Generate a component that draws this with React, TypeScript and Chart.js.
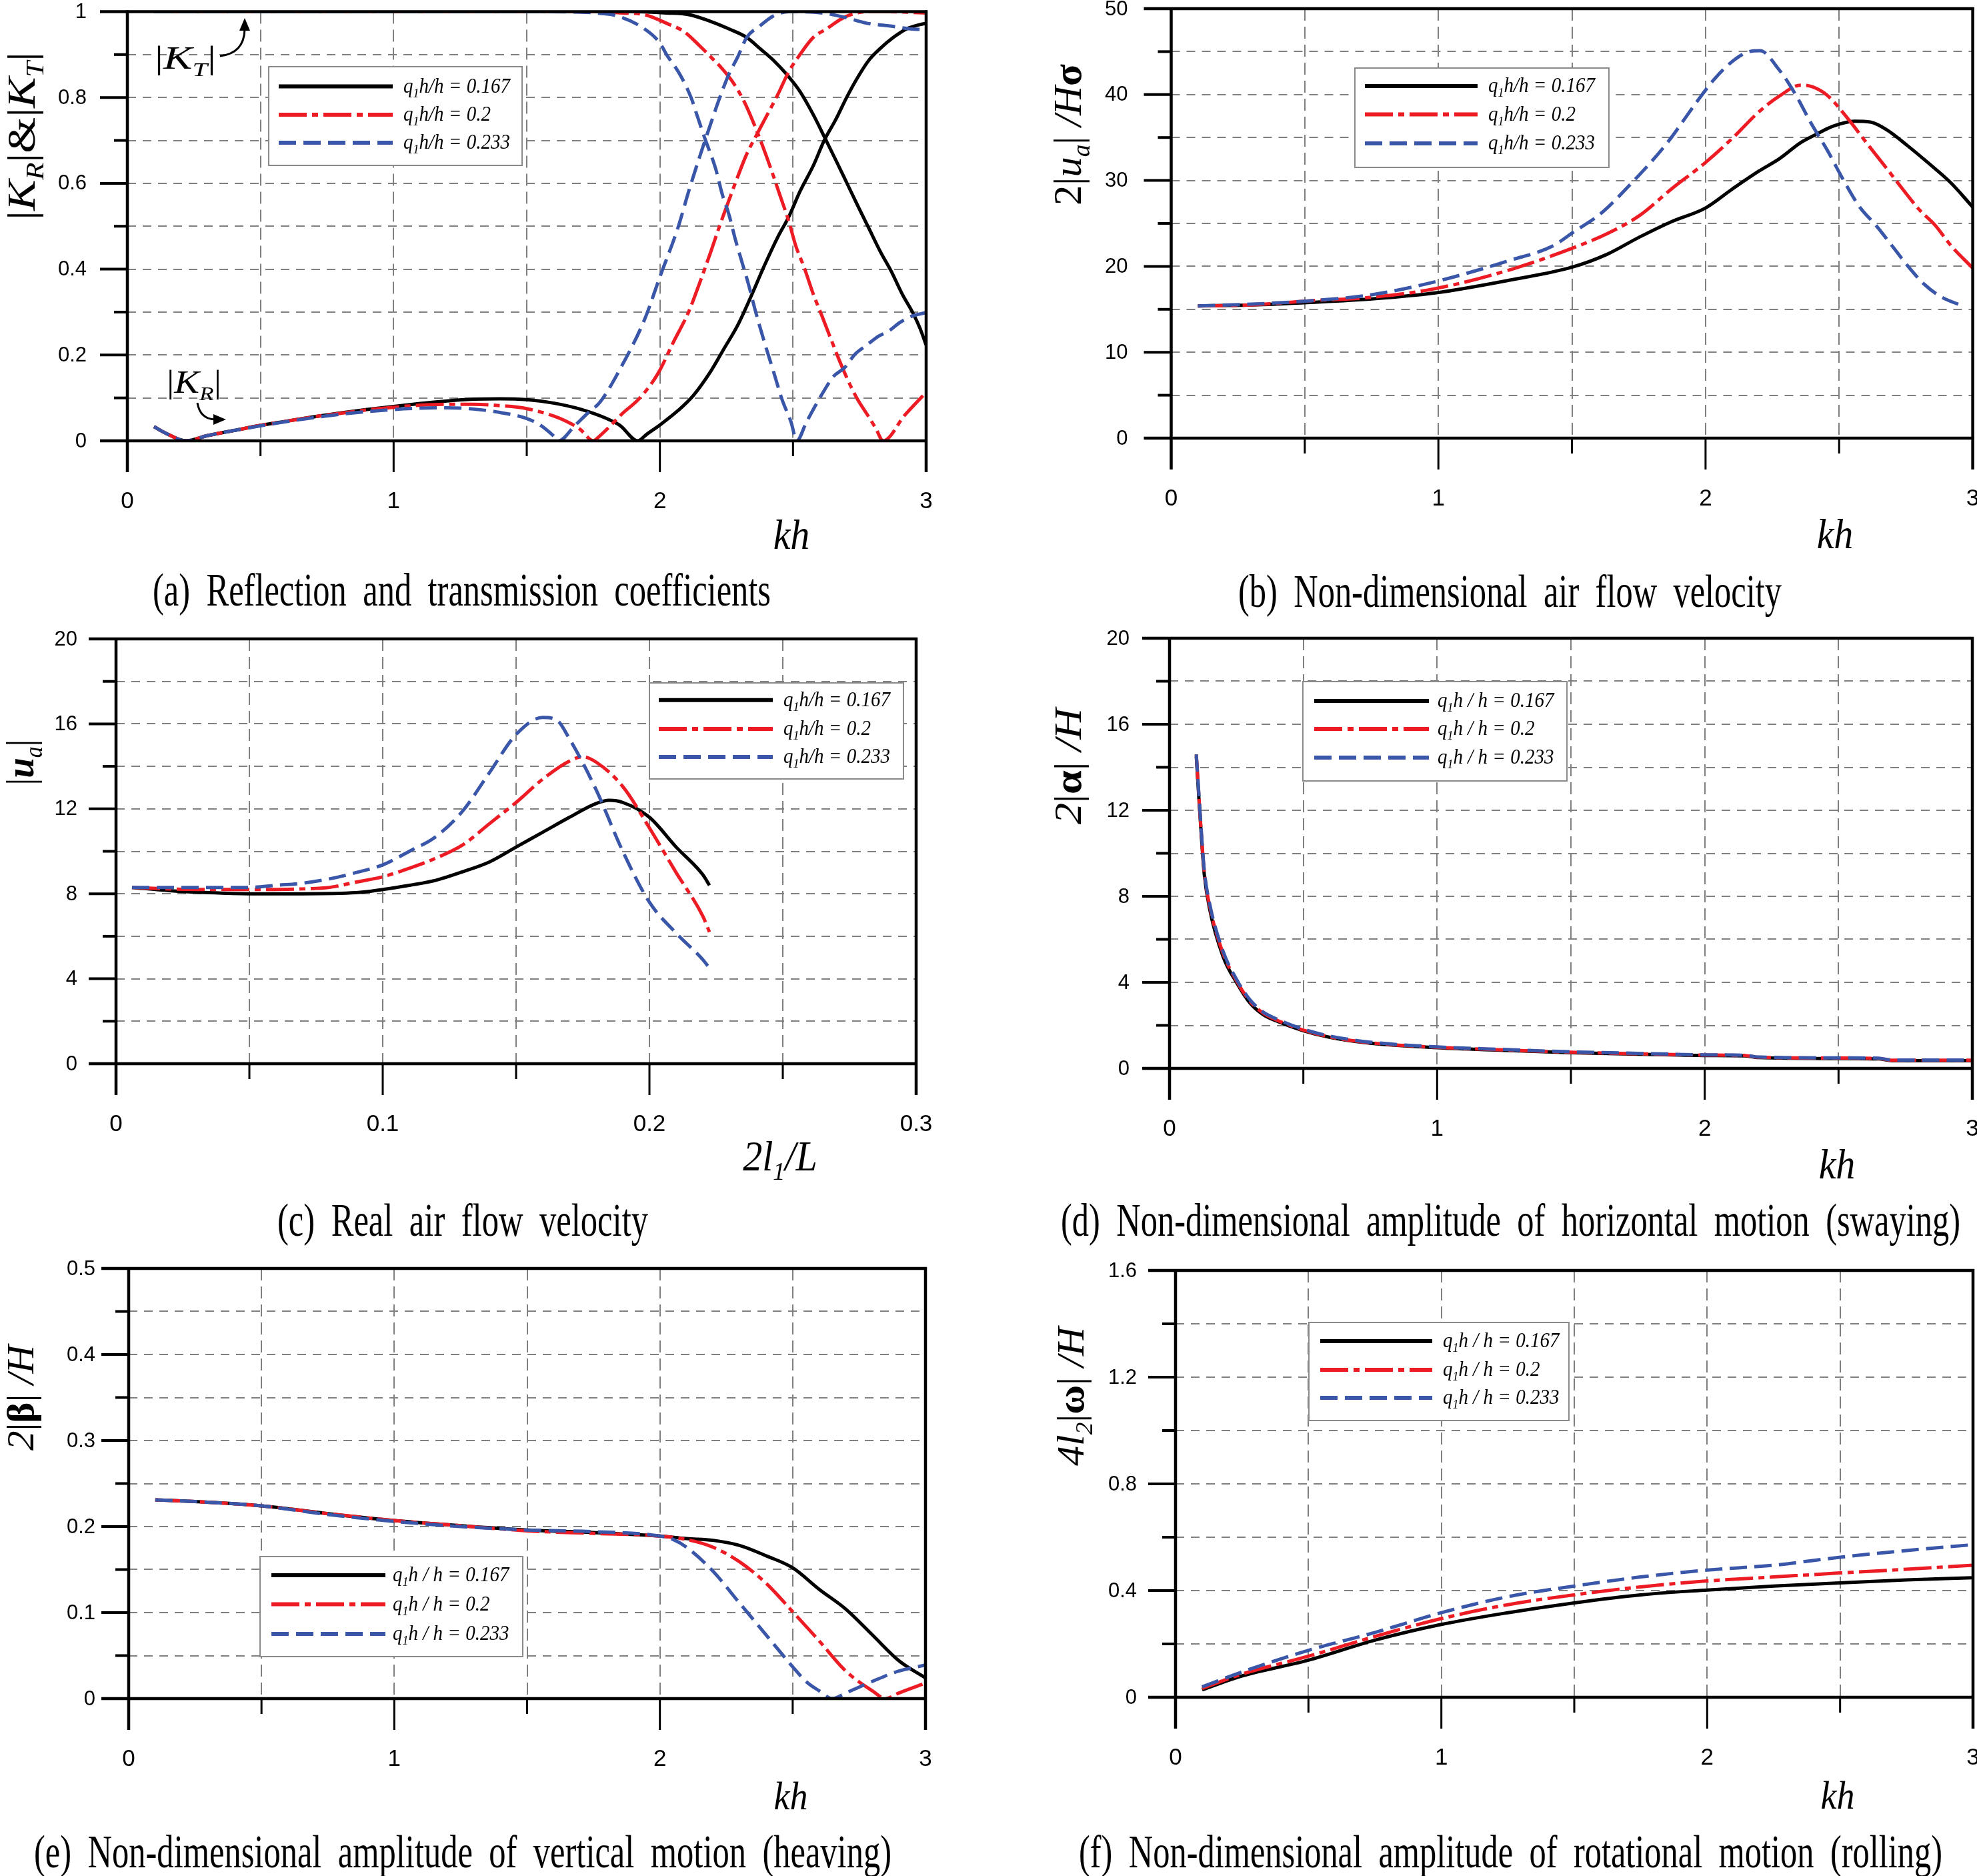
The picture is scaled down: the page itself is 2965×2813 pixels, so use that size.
import React, { useEffect, useRef } from 'react';
import { Chart, registerables } from 'chart.js';

Chart.register(...registerables);

// ======================= DATA =======================
// (a) Reflection |KR| and transmission |KT| coefficients vs kh
const A_KH_R167 = [0.1,0.15,0.22,0.3,0.4,0.5,0.6,0.7,0.8,0.9,1.0,1.1,1.2,1.3,1.4,1.5,1.6,1.7,1.8,1.85,1.917,1.95,2.0,2.067,2.126,2.192,2.242,2.292,2.342,2.393,2.443,2.484,2.526,2.576,2.618,2.66,2.702,2.743,2.785,2.827,2.877,2.927,2.977,3.0];
const A_R167 = [0.033,0.016,0.0,0.012,0.024,0.036,0.046,0.056,0.065,0.073,0.080,0.087,0.093,0.097,0.098,0.096,0.088,0.074,0.052,0.036,0.0,0.015,0.037,0.07,0.106,0.163,0.216,0.269,0.336,0.409,0.475,0.522,0.581,0.641,0.701,0.748,0.801,0.847,0.887,0.914,0.94,0.96,0.97,0.973];
const A_KH_T167 = [0.1,0.5,1.0,1.5,1.9,2.025,2.109,2.192,2.259,2.326,2.376,2.426,2.476,2.526,2.576,2.618,2.66,2.702,2.743,2.785,2.827,2.869,2.91,2.952,2.977,3.0];
const A_T167 = [1,1,1,1,1,0.997,0.993,0.977,0.96,0.94,0.914,0.887,0.854,0.814,0.76,0.708,0.655,0.601,0.548,0.495,0.442,0.395,0.342,0.296,0.262,0.223];
const A_KH_R200 = [0.1,0.15,0.22,0.3,0.4,0.5,0.6,0.7,0.8,0.9,1.0,1.1,1.2,1.3,1.4,1.5,1.6,1.65,1.7,1.75,1.775,1.817,1.858,1.925,1.992,2.05,2.109,2.15,2.192,2.225,2.259,2.292,2.326,2.359,2.393,2.443,2.484,2.526,2.576,2.626,2.693,2.777,2.86,3.0];
const A_R200 = [0.033,0.016,0.0,0.012,0.024,0.036,0.046,0.056,0.064,0.072,0.078,0.083,0.085,0.085,0.082,0.075,0.058,0.045,0.027,0.0,0.012,0.037,0.063,0.1,0.156,0.229,0.302,0.369,0.442,0.502,0.56,0.615,0.668,0.708,0.748,0.807,0.86,0.9,0.94,0.96,0.987,1.0,1.0,0.997];
const A_KH_T200 = [0.1,0.5,1.0,1.5,1.775,1.858,1.942,2.025,2.092,2.15,2.192,2.234,2.276,2.317,2.359,2.384,2.418,2.451,2.484,2.51,2.543,2.576,2.61,2.643,2.677,2.71,2.743,2.777,2.81,2.839,2.92,3.0];
const A_T200 = [1,1,1,1,1,0.997,0.993,0.973,0.953,0.92,0.894,0.867,0.834,0.79,0.73,0.69,0.632,0.572,0.512,0.455,0.402,0.342,0.289,0.236,0.183,0.136,0.096,0.063,0.03,0.0,0.06,0.113];
const A_KH_R233 = [0.1,0.15,0.22,0.3,0.4,0.5,0.6,0.7,0.8,0.9,1.0,1.1,1.2,1.3,1.4,1.5,1.55,1.6,1.62,1.68,1.73,1.775,1.858,1.942,2.0,2.067,2.109,2.142,2.192,2.225,2.259,2.292,2.326,2.376,2.426,2.484,2.61,2.693,2.777,2.86,2.94,3.0];
const A_R233 = [0.033,0.016,0.0,0.012,0.024,0.035,0.045,0.054,0.062,0.068,0.073,0.076,0.077,0.074,0.066,0.052,0.037,0.012,0.0,0.035,0.065,0.09,0.176,0.282,0.382,0.495,0.583,0.648,0.741,0.8,0.854,0.894,0.94,0.967,0.99,1.0,0.997,0.987,0.973,0.967,0.96,0.958];
const A_KH_T233 = [0.1,0.5,1.0,1.5,1.7,1.775,1.84,1.942,2.0,2.025,2.075,2.117,2.142,2.167,2.209,2.234,2.259,2.284,2.309,2.334,2.359,2.393,2.426,2.459,2.493,2.514,2.55,2.585,2.61,2.652,2.693,2.735,2.777,2.819,2.86,2.902,2.94,3.0];
const A_T233 = [1,1,1,1,0.999,0.996,0.99,0.96,0.927,0.9,0.854,0.8,0.754,0.708,0.635,0.575,0.528,0.468,0.415,0.362,0.302,0.229,0.163,0.096,0.043,0.0,0.043,0.083,0.11,0.15,0.17,0.203,0.223,0.243,0.256,0.276,0.289,0.299];

// (b) Non-dimensional air flow velocity vs kh
const B_KH_167 = [0.1,0.3,0.523,0.75,0.987,1.268,1.5,1.631,1.752,1.872,2.0,2.1,2.2,2.275,2.356,2.416,2.476,2.557,2.617,2.678,2.758,2.839,2.919,3.0];
const B_167 = [15.4,15.5,15.8,16.2,16.9,18.4,19.9,21.4,23.4,25.2,26.8,29.0,31.1,32.5,34.4,35.4,36.3,36.9,36.8,35.9,34.0,31.9,29.7,26.9];
const B_KH_200 = [0.1,0.3,0.523,0.75,0.987,1.268,1.5,1.631,1.752,1.872,2.0,2.1,2.2,2.275,2.356,2.4,2.456,2.517,2.617,2.678,2.74,2.8,2.859,2.919,3.0];
const B_200 = [15.4,15.5,16.0,16.4,17.4,19.6,22.1,23.8,25.9,29.0,32.1,34.9,38.0,39.8,41.1,40.9,39.9,37.8,33.8,31.4,28.9,26.6,24.8,22.4,19.8];
const B_KH_233 = [0.1,0.3,0.523,0.75,0.987,1.268,1.43,1.506,1.61,1.711,1.852,1.973,2.033,2.094,2.154,2.204,2.275,2.335,2.396,2.456,2.517,2.577,2.637,2.698,2.758,2.819,2.879,2.97];
const B_233 = [15.4,15.6,16.0,16.7,18.2,20.7,22.4,24.0,26.2,29.3,34.2,39.4,41.8,43.7,44.9,45.1,42.9,40.1,36.6,33.5,30.0,26.9,24.8,22.4,20.0,17.9,16.5,15.3];

// (c) Real air flow velocity vs 2l1/L
const C_X_167 = [0.006,0.02,0.035,0.05,0.07,0.09,0.1,0.11,0.12,0.13,0.14,0.15,0.16,0.17,0.18,0.185,0.19,0.2,0.21,0.22,0.2225];
const C_167 = [8.3,8.15,8.05,8.0,8.0,8.05,8.2,8.4,8.64,9.04,9.5,10.2,10.9,11.6,12.25,12.4,12.3,11.6,10.2,8.9,8.4];
const C_X_200 = [0.006,0.03,0.05,0.07,0.08,0.09,0.1,0.11,0.12,0.13,0.14,0.15,0.16,0.17,0.175,0.18,0.19,0.2,0.21,0.22,0.2225];
const C_200 = [8.3,8.2,8.2,8.23,8.3,8.55,8.8,9.2,9.68,10.3,11.3,12.3,13.4,14.25,14.45,14.2,13.05,11.1,9.0,6.95,6.2];
const C_X_233 = [0.006,0.03,0.05,0.06,0.07,0.08,0.09,0.1,0.11,0.12,0.13,0.14,0.15,0.16,0.165,0.17,0.18,0.19,0.2,0.21,0.22,0.2225];
const C_233 = [8.3,8.3,8.3,8.4,8.5,8.7,9.0,9.36,10.0,10.7,11.9,13.7,15.5,16.3,16.2,15.3,12.9,10.0,7.6,6.15,4.9,4.5];

// (d) Swaying amplitude vs kh
const D_KH = [0.1,0.11,0.12,0.13,0.15,0.2,0.25,0.3,0.35,0.4,0.5,0.6,0.75,1.0,1.25,1.5,1.75,2.0,2.15,2.2,2.5,2.65,2.7,3.0];
const D_167 = [14.5,12.5,10.6,9.0,7.4,5.2,4.0,3.05,2.5,2.2,1.75,1.44,1.17,0.96,0.84,0.73,0.66,0.6,0.58,0.5,0.46,0.44,0.36,0.36];
const D_200 = [14.6,12.6,10.7,9.1,7.55,5.35,4.08,3.13,2.57,2.25,1.78,1.46,1.19,0.98,0.86,0.75,0.68,0.62,0.6,0.52,0.48,0.46,0.38,0.38];
const D_233 = [14.6,12.7,10.8,9.2,7.65,5.45,4.15,3.2,2.62,2.3,1.82,1.5,1.22,1.0,0.88,0.77,0.7,0.63,0.61,0.53,0.49,0.47,0.39,0.39];

// (e) Heaving amplitude vs kh
const E_KH_167 = [0.1,0.25,0.5,0.75,1.0,1.25,1.5,1.75,2.0,2.1,2.2,2.3,2.4,2.5,2.6,2.7,2.8,2.9,3.0];
const E_167 = [0.231,0.229,0.224,0.215,0.207,0.201,0.196,0.193,0.189,0.186,0.184,0.178,0.166,0.152,0.127,0.104,0.074,0.044,0.024];
const E_KH_200 = [0.1,0.25,0.5,0.75,1.0,1.25,1.5,1.75,2.0,2.1,2.2,2.3,2.4,2.5,2.6,2.7,2.8,2.85,2.9,3.0];
const E_200 = [0.231,0.229,0.224,0.215,0.207,0.201,0.195,0.192,0.189,0.185,0.176,0.159,0.134,0.101,0.067,0.032,0.009,0.0,0.0065,0.018];
const E_KH_233 = [0.1,0.25,0.5,0.75,1.0,1.25,1.5,1.75,2.0,2.05,2.1,2.2,2.3,2.4,2.5,2.55,2.6,2.65,2.7,2.8,2.9,3.0];
const E_233 = [0.231,0.229,0.224,0.214,0.206,0.2,0.196,0.194,0.189,0.185,0.176,0.148,0.111,0.074,0.037,0.02,0.009,0.0,0.0065,0.02,0.032,0.039];

// (f) Rolling amplitude vs kh
const F_KH = [0.1,0.25,0.5,0.75,1.0,1.25,1.5,1.75,2.0,2.25,2.5,2.75,3.0];
const F_167 = [0.028,0.08,0.139,0.214,0.273,0.317,0.354,0.384,0.402,0.417,0.429,0.44,0.448];
const F_200 = [0.033,0.087,0.154,0.228,0.295,0.347,0.384,0.414,0.436,0.451,0.466,0.48,0.495];
const F_233 = [0.039,0.095,0.176,0.243,0.317,0.377,0.417,0.451,0.477,0.495,0.525,0.55,0.572];

const Q_VALUES = ['0.167', '0.2', '0.233'];

// ======================= STYLE =======================
const COLORS = ['#000000', '#ed1c24', '#3a56a8'];
const DASHES = [[], [42, 8, 9, 8], [26, 11]];
const GRID = '#808080';
const SANS = '"Liberation Sans", Arial, Helvetica, sans-serif';
const SERIF = '"Liberation Serif", "Times New Roman", Times, serif';

type Seg = { t: string; it?: boolean; b?: boolean; sub?: boolean };

function segFont(s: Seg, size: number) {
  const sz = s.sub ? Math.round(size * 0.62) : size;
  return `${s.it ? 'italic ' : ''}${s.b ? 'bold ' : ''}${sz}px ${SERIF}`;
}
function richWidth(ctx: CanvasRenderingContext2D, segs: Seg[], size: number) {
  let w = 0;
  for (const s of segs) { ctx.font = segFont(s, size); w += ctx.measureText(s.t).width; }
  return w;
}
function drawRich(ctx: CanvasRenderingContext2D, segs: Seg[], x: number, y: number, size: number,
  opts: { align?: 'left' | 'center'; fit?: number; rotate?: boolean; sy?: number } = {}) {
  ctx.save();
  const w = richWidth(ctx, segs, size);
  const sx = opts.fit ? opts.fit / w : 1;
  ctx.translate(x, y);
  if (opts.rotate) ctx.rotate(-Math.PI / 2);
  ctx.scale(sx, opts.sy || 1);
  ctx.fillStyle = '#000';
  ctx.textAlign = 'left';
  ctx.textBaseline = 'alphabetic';
  let cur = opts.align === 'center' ? -w / 2 : 0;
  for (const s of segs) {
    ctx.font = segFont(s, size);
    ctx.fillText(s.t, cur, s.sub ? size * 0.22 : 0);
    cur += ctx.measureText(s.t).width;
  }
  ctx.restore();
}
function drawCaption(ctx: CanvasRenderingContext2D, text: string, x0: number, x1: number, base: number, size: number) {
  ctx.save();
  ctx.font = `${size}px ${SERIF}`;
  (ctx as any).wordSpacing = '14px';
  const w = ctx.measureText(text).width;
  const sx = (x1 - x0) / w;
  ctx.translate(x0, base);
  ctx.scale(sx, 1.18);
  ctx.textAlign = 'left';
  ctx.textBaseline = 'alphabetic';
  ctx.fillStyle = '#000';
  ctx.fillText(text, 0, 0);
  ctx.restore();
}

const legendSegs = (q: string, spaced: boolean): Seg[] => [
  { t: 'q', it: true }, { t: '1', it: true, sub: true }, { t: (spaced ? 'h / h = ' : 'h/h = ') + q, it: true },
];
const KH: Seg[] = [{ t: 'kh', it: true }];

interface AxisSpec { min: number; max: number; step: number; major: number }
interface SeriesSpec { x: number[]; y: number[]; s: number }
interface Spec {
  id: string;
  box: number[];
  area: number[];
  x: AxisSpec;
  y: AxisSpec;
  yGap: number;
  lw: number;
  series: SeriesSpec[];
  legend: { box: number[]; line: number[]; tx: number; rows: number[]; spaced: boolean };
  xTitle: { segs: Seg[]; x: number; base: number; size: number };
  yTitle: { segs: Seg[]; cx: number; cy: number; len: number; size: number };
  caption: { text: string; x0: number; x1: number; base: number };
  notes?: boolean;
}

const KH_AXIS: AxisSpec = { min: 0, max: 3, step: 0.5, major: 1 };

const PANELS: Spec[] = [
  {
    id: 'a', box: [0, 0, 1482, 940], area: [191, 17.5, 1389, 661],
    x: KH_AXIS, y: { min: 0, max: 1, step: 0.1, major: 0.2 }, yGap: 61, lw: 5,
    series: [
      { x: A_KH_R233, y: A_R233, s: 2 }, { x: A_KH_T233, y: A_T233, s: 2 },
      { x: A_KH_R200, y: A_R200, s: 1 }, { x: A_KH_T200, y: A_T200, s: 1 },
      { x: A_KH_R167, y: A_R167, s: 0 }, { x: A_KH_T167, y: A_T167, s: 0 },
    ],
    legend: { box: [403, 100, 783, 248], line: [418, 589], tx: 605, rows: [129.5, 172, 214], spaced: false },
    xTitle: { segs: KH, x: 1187, base: 823, size: 58 },
    yTitle: {
      segs: [{ t: '|' }, { t: 'K', it: true }, { t: 'R', it: true, sub: true }, { t: '|' }, { t: '&' }, { t: '|' }, { t: 'K', it: true }, { t: 'T', it: true, sub: true }, { t: '|' }],
      cx: 32, cy: 204, len: 252, size: 60,
    },
    caption: { text: '(a) Reflection and transmission coefficients', x0: 229, x1: 1156, base: 908 },
    notes: true,
  },
  {
    id: 'b', box: [1482, 0, 1483, 940], area: [1756.5, 13, 2958.6, 657],
    x: KH_AXIS, y: { min: 0, max: 50, step: 5, major: 10 }, yGap: 65, lw: 5,
    series: [{ x: B_KH_233, y: B_233, s: 2 }, { x: B_KH_200, y: B_200, s: 1 }, { x: B_KH_167, y: B_167, s: 0 }],
    legend: { box: [2032, 102, 2413, 251], line: [2047, 2216], tx: 2232, rows: [129, 171.6, 215], spaced: false },
    xTitle: { segs: KH, x: 2752, base: 822, size: 58 },
    yTitle: {
      segs: [{ t: '2' }, { t: '|' }, { t: 'u', it: true }, { t: 'a', it: true, sub: true }, { t: '|' }, { t: ' /H', it: true }, { t: 'σ', b: true }],
      cx: 1601, cy: 202, len: 212, size: 60,
    },
    caption: { text: '(b) Non-dimensional air flow velocity', x0: 1857, x1: 2672, base: 910 },
  },
  {
    id: 'c', box: [0, 940, 1482, 940], area: [174, 958, 1374, 1595],
    x: { min: 0, max: 0.3, step: 0.05, major: 0.1 }, y: { min: 0, max: 20, step: 2, major: 4 }, yGap: 58, lw: 5,
    series: [{ x: C_X_233, y: C_233, s: 2 }, { x: C_X_200, y: C_200, s: 1 }, { x: C_X_167, y: C_167, s: 0 }],
    legend: { box: [974, 1024, 1355, 1168], line: [988, 1159], tx: 1175, rows: [1049.7, 1093, 1135], spaced: false },
    xTitle: { segs: [{ t: '2', it: true }, { t: 'l', it: true }, { t: '1', it: true, sub: true }, { t: '/L', it: true }], x: 1170, base: 1755, size: 58 },
    yTitle: {
      segs: [{ t: '|' }, { t: 'u', it: true, b: true }, { t: 'a', it: true, sub: true }, { t: '|' }],
      cx: 30, cy: 1143, len: 69, size: 60,
    },
    caption: { text: '(c) Real air flow velocity', x0: 416, x1: 972, base: 1853 },
  },
  {
    id: 'd', box: [1482, 940, 1483, 940], area: [1754, 957, 2958, 1602],
    x: KH_AXIS, y: { min: 0, max: 20, step: 2, major: 4 }, yGap: 60, lw: 5,
    series: [{ x: D_KH, y: D_233, s: 2 }, { x: D_KH, y: D_200, s: 1 }, { x: D_KH, y: D_167, s: 0 }],
    legend: { box: [1954, 1022, 2350, 1171], line: [1971, 2143], tx: 2156, rows: [1051, 1093, 1136], spaced: true },
    xTitle: { segs: KH, x: 2755, base: 1767, size: 58 },
    yTitle: {
      segs: [{ t: '2', it: true }, { t: '|' }, { t: 'α', b: true }, { t: '|' }, { t: ' /H', it: true }],
      cx: 1602, cy: 1149, len: 174, size: 58,
    },
    caption: { text: '(d) Non-dimensional amplitude of horizontal motion (swaying)', x0: 1591, x1: 2940, base: 1853 },
  },
  {
    id: 'e', box: [0, 1880, 1482, 933], area: [193, 1902, 1388, 2547],
    x: KH_AXIS, y: { min: 0, max: 0.5, step: 0.05, major: 0.1 }, yGap: 50, lw: 5,
    series: [{ x: E_KH_233, y: E_233, s: 2 }, { x: E_KH_200, y: E_200, s: 1 }, { x: E_KH_167, y: E_167, s: 0 }],
    legend: { box: [390, 2334, 784, 2484], line: [407, 578], tx: 589, rows: [2362, 2405.6, 2450], spaced: true },
    xTitle: { segs: KH, x: 1186, base: 2713, size: 54 },
    yTitle: {
      segs: [{ t: '2', it: true }, { t: '|' }, { t: 'β', b: true }, { t: '|' }, { t: ' /H', it: true }],
      cx: 32, cy: 2096, len: 158, size: 56,
    },
    caption: { text: '(e) Non-dimensional amplitude of vertical motion (heaving)', x0: 51, x1: 1337, base: 2800 },
  },
  {
    id: 'f', box: [1482, 1880, 1483, 933], area: [1763, 1905, 2959, 2545],
    x: KH_AXIS, y: { min: 0, max: 1.6, step: 0.2, major: 0.4 }, yGap: 58, lw: 5,
    series: [{ x: F_KH, y: F_233, s: 2 }, { x: F_KH, y: F_200, s: 1 }, { x: F_KH, y: F_167, s: 0 }],
    legend: { box: [1963, 1983, 2353, 2130], line: [1980, 2148], tx: 2164, rows: [2011, 2054, 2096], spaced: true },
    xTitle: { segs: KH, x: 2756, base: 2712, size: 54 },
    yTitle: {
      segs: [{ t: '4', it: true }, { t: 'l', it: true }, { t: '2', it: true, sub: true }, { t: '|' }, { t: 'ω', b: true }, { t: '|' }, { t: ' /H', it: true }],
      cx: 1606, cy: 2094, len: 208, size: 58,
    },
    caption: { text: '(f) Non-dimensional amplitude of rotational motion (rolling)', x0: 1618, x1: 2913, base: 2800 },
  },
];

// ======================= DRAWING HELPERS =======================
const fmt = (v: number) => String(+v.toFixed(4));
const isMajor = (v: number, major: number) => { const r = v / major; return Math.abs(r - Math.round(r)) < 1e-6; };
const values = (a: AxisSpec) => {
  const n = Math.round((a.max - a.min) / a.step);
  const out: number[] = [];
  for (let i = 0; i <= n; i++) out.push(+(a.min + i * a.step).toFixed(6));
  return out;
};
function seg(ctx: CanvasRenderingContext2D, x1: number, y1: number, x2: number, y2: number) {
  ctx.beginPath(); ctx.moveTo(x1, y1); ctx.lineTo(x2, y2); ctx.stroke();
}

function decoPlugin(spec: Spec) {
  const ox = spec.box[0];
  const oy = spec.box[1];
  return {
    id: 'deco',
    beforeDraw(chart: any) {
      const c = chart.ctx;
      c.save(); c.fillStyle = '#fff'; c.fillRect(0, 0, chart.width, chart.height); c.restore();
    },
    beforeDatasetsDraw(chart: any) {
      const ctx: CanvasRenderingContext2D = chart.ctx;
      const { left, right, top, bottom } = chart.chartArea;
      const xs = chart.scales.x;
      const ys = chart.scales.y;
      ctx.save();
      ctx.strokeStyle = GRID;
      ctx.lineWidth = 2;
      ctx.setLineDash([18, 9]);
      const xv = values(spec.x);
      for (let i = 1; i < xv.length - 1; i++) {
        const px = Math.round(xs.getPixelForValue(xv[i]));
        seg(ctx, px, top, px, bottom);
      }
      ctx.setLineDash([13, 10]);
      const yv = values(spec.y);
      for (let i = 1; i < yv.length - 1; i++) {
        const py = Math.round(ys.getPixelForValue(yv[i]));
        seg(ctx, left, py, right, py);
      }
      ctx.restore();
    },
    afterDatasetsDraw(chart: any) {
      const ctx: CanvasRenderingContext2D = chart.ctx;
      const { left, right, top, bottom } = chart.chartArea;
      const xs = chart.scales.x;
      const ys = chart.scales.y;
      const TY = 41, TYm = 20, TX = 47, TXm = 23;
      ctx.save();
      ctx.setLineDash([]);
      ctx.strokeStyle = '#000';
      ctx.lineCap = 'butt';
      // frame
      ctx.lineWidth = 4.5;
      seg(ctx, left - TY, top, right + 2, top);
      seg(ctx, left - TY, bottom, right + 2, bottom);
      seg(ctx, left, top - 2, left, bottom + TX);
      seg(ctx, right, top - 2, right, bottom + TX);
      // ticks
      ctx.lineWidth = 4;
      const yv = values(spec.y);
      for (let i = 1; i < yv.length - 1; i++) {
        const py = ys.getPixelForValue(yv[i]);
        const len = isMajor(yv[i], spec.y.major) ? TY : TYm;
        seg(ctx, left - len, py, left, py);
      }
      const xv = values(spec.x);
      ctx.lineWidth = 3;
      for (let i = 1; i < xv.length - 1; i++) {
        const px = xs.getPixelForValue(xv[i]);
        const len = isMajor(xv[i], spec.x.major) ? TX : TXm;
        seg(ctx, px, bottom, px, bottom + len);
      }
      // tick labels
      ctx.fillStyle = '#000';
      ctx.font = `31px ${SANS}`;
      ctx.textAlign = 'right';
      ctx.textBaseline = 'middle';
      for (const v of yv) {
        if (!isMajor(v, spec.y.major)) continue;
        ctx.fillText(fmt(v), left - spec.yGap, ys.getPixelForValue(v) + 1);
      }
      ctx.font = `35px ${SANS}`;
      ctx.textAlign = 'center';
      ctx.textBaseline = 'alphabetic';
      for (const v of xv) {
        if (!isMajor(v, spec.x.major)) continue;
        ctx.fillText(fmt(v), xs.getPixelForValue(v), bottom + 101);
      }
      // legend
      const lg = spec.legend;
      const [bx0, by0, bx1, by1] = lg.box;
      ctx.fillStyle = '#fff';
      ctx.fillRect(bx0 - ox, by0 - oy, bx1 - bx0, by1 - by0);
      ctx.strokeStyle = '#8a8a8a';
      ctx.lineWidth = 2;
      ctx.strokeRect(bx0 - ox, by0 - oy, bx1 - bx0, by1 - by0);
      for (let k = 0; k < 3; k++) {
        const ry = lg.rows[k] - oy;
        ctx.strokeStyle = COLORS[k];
        ctx.lineWidth = 6;
        ctx.setLineDash(DASHES[k]);
        seg(ctx, lg.line[0] - ox, ry, lg.line[1] - ox, ry);
        ctx.setLineDash([]);
        drawRich(ctx, legendSegs(Q_VALUES[k], lg.spaced), lg.tx - ox, ry + 9, 29, { align: 'left', sy: 1.1 });
      }
      // axis titles
      drawRich(ctx, spec.xTitle.segs, spec.xTitle.x - ox, spec.xTitle.base - oy, spec.xTitle.size, { align: 'center', sy: 1.08 });
      const yt = spec.yTitle;
      drawRich(ctx, yt.segs, yt.cx - ox + yt.size * 0.33, yt.cy - oy, yt.size, { align: 'center', fit: yt.len, rotate: true });
      // caption
      drawCaption(ctx, spec.caption.text, spec.caption.x0 - ox, spec.caption.x1 - ox, spec.caption.base - oy, 60);
      // annotations for (a)
      if (spec.notes) {
        drawRich(ctx, [{ t: '|' }, { t: 'K', it: true }, { t: 'T', it: true, sub: true }, { t: '|' }], 278 - ox, 103 - oy, 48, { align: 'center', fit: 92 });
        drawRich(ctx, [{ t: '|' }, { t: 'K', it: true }, { t: 'R', it: true, sub: true }, { t: '|' }], 291 - ox, 589 - oy, 48, { align: 'center', fit: 82 });
        ctx.strokeStyle = '#000';
        ctx.fillStyle = '#000';
        ctx.lineWidth = 3;
        ctx.beginPath(); ctx.moveTo(330 - ox, 84 - oy); ctx.quadraticCurveTo(366 - ox, 80 - oy, 367 - ox, 44 - oy); ctx.stroke();
        ctx.beginPath(); ctx.moveTo(367 - ox, 27 - oy); ctx.lineTo(359 - ox, 46 - oy); ctx.lineTo(375 - ox, 46 - oy); ctx.closePath(); ctx.fill();
        ctx.beginPath(); ctx.moveTo(296 - ox, 604 - oy); ctx.quadraticCurveTo(300 - ox, 628 - oy, 322 - ox, 629 - oy); ctx.stroke();
        ctx.beginPath(); ctx.moveTo(339 - ox, 629 - oy); ctx.lineTo(320 - ox, 621 - oy); ctx.lineTo(320 - ox, 637 - oy); ctx.closePath(); ctx.fill();
      }
      ctx.restore();
    },
  };
}

function buildConfig(spec: Spec): any {
  const [bx, by, bw, bh] = spec.box;
  const [L, T, R, B] = spec.area;
  return {
    type: 'line',
    data: {
      datasets: spec.series.map((s) => ({
        label: 'q1h/h = ' + Q_VALUES[s.s],
        data: s.x.map((x, j) => ({ x, y: s.y[j] })),
        borderColor: COLORS[s.s],
        backgroundColor: COLORS[s.s],
        borderWidth: spec.lw,
        borderDash: DASHES[s.s],
        borderCapStyle: 'butt',
        borderJoinStyle: 'round',
        pointRadius: 0,
        pointHoverRadius: 0,
        fill: false,
        cubicInterpolationMode: 'monotone',
      })),
    },
    options: {
      responsive: false,
      maintainAspectRatio: false,
      animation: false,
      devicePixelRatio: 1,
      events: [],
      layout: { padding: { left: 0, top: T - by, right: bx + bw - R, bottom: 0 } },
      plugins: { legend: { display: false }, tooltip: { enabled: false }, title: { display: false } },
      scales: {
        x: {
          type: 'linear', position: 'bottom', min: spec.x.min, max: spec.x.max,
          ticks: { display: false, stepSize: spec.x.step },
          grid: { display: false }, border: { display: false },
          afterFit: (sc: any) => { sc.height = by + bh - B; },
        },
        y: {
          type: 'linear', position: 'left', min: spec.y.min, max: spec.y.max,
          ticks: { display: false, stepSize: spec.y.step },
          grid: { display: false }, border: { display: false },
          afterFit: (sc: any) => { sc.width = L - bx; },
        },
      },
    },
    plugins: [decoPlugin(spec)],
  };
}

function Panel({ spec }: { spec: Spec }) {
  const ref = useRef<HTMLCanvasElement>(null);
  useEffect(() => {
    if (!ref.current) return;
    const chart = new Chart(ref.current, buildConfig(spec));
    return () => chart.destroy();
  }, [spec]);
  const [bx, by, bw, bh] = spec.box;
  return (
    <canvas
      ref={ref}
      width={bw}
      height={bh}
      style={{ position: 'absolute', left: bx, top: by, width: bw, height: bh, display: 'block' }}
    />
  );
}

export default function App() {
  return (
    <div style={{ position: 'absolute', left: 0, top: 0, width: 2965, height: 2813, background: '#fff', overflow: 'hidden' }}>
      {PANELS.map((p) => <Panel key={p.id} spec={p} />)}
    </div>
  );
}
